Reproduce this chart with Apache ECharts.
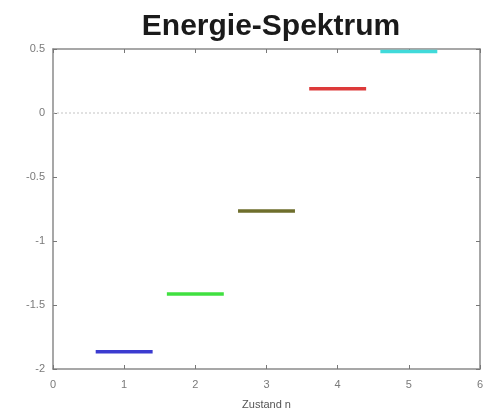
<!DOCTYPE html>
<html><head><meta charset="utf-8">
<script src="https://cdn.jsdelivr.net/npm/echarts@6/dist/echarts.min.js"></script>
<style>html,body{margin:0;padding:0;background:#fff}#c{width:487px;height:412px}</style>
</head><body><div id="c"></div>
<script>
const titleText = "Energie-Spektrum";
const xAxisName = "Zustand n";
const states = [1, 2, 3, 4, 5];
const energies = [-1.865, -1.415, -0.765, 0.19, 0.48];
const xTicks = [0, 1, 2, 3, 4, 5, 6];
const yTicks = [-2, -1.5, -1, -0.5, 0, 0.5];
const zeroLevel = 0;

const levelColors = ['#3b3bd0', '#40e040', '#6e6e2c', '#dd3a3a', '#40dada'];
const halfWidth = 0.4;

const chart = echarts.init(document.getElementById('c'));
const axisGray = '#8a8a8a';
const labelGray = '#7a7a7a';

const series = states.map((n, i) => ({
  type: 'line',
  data: [[n - halfWidth, energies[i]], [n + halfWidth, energies[i]]],
  symbol: 'none',
  lineStyle: { color: levelColors[i], width: 3.5 },
  silent: true,
  z: 5
}));
series.unshift({
  type: 'line',
  data: [[xTicks[0], zeroLevel], [xTicks[xTicks.length - 1], zeroLevel]],
  symbol: 'none',
  lineStyle: { color: '#c4c4c4', width: 1, type: [2, 2] },
  silent: true,
  z: 2
});

const xBase = {
  type: 'value', min: xTicks[0], max: xTicks[xTicks.length - 1], interval: 1,
  splitLine: { show: false },
  axisLine: { show: true, onZero: false, lineStyle: { color: axisGray, width: 1.5 } },
  axisTick: { show: true, inside: true, length: 4, lineStyle: { color: '#777' } }
};
const yBase = {
  type: 'value', min: yTicks[0], max: yTicks[yTicks.length - 1], interval: 0.5,
  splitLine: { show: false },
  axisLine: { show: true, onZero: false, lineStyle: { color: axisGray, width: 1.5 } },
  axisTick: { show: true, inside: true, length: 4, lineStyle: { color: '#777' } }
};

chart.setOption({
  animation: false,
  title: {
    text: titleText, left: 266, top: 7, textAlign: 'center',
    textStyle: { fontFamily: 'Liberation Sans', fontWeight: 'bold', fontSize: 30, color: '#1a1a1a' }
  },
  grid: { left: 53, right: 7, top: 49, bottom: 43, containLabel: false, outerBoundsMode: 'none' },
  xAxis: [
    Object.assign({}, xBase, {
      position: 'bottom',
      name: xAxisName, nameLocation: 'middle', nameGap: 30,
      nameTextStyle: { fontFamily: 'Liberation Sans', fontSize: 11, color: '#555' },
      axisLabel: { margin: 10, fontFamily: 'Liberation Sans', fontSize: 11, color: labelGray }
    }),
    Object.assign({}, xBase, { position: 'top', axisLabel: { show: false } })
  ],
  yAxis: [
    Object.assign({}, yBase, {
      position: 'left',
      axisLabel: { margin: 8, fontFamily: 'Liberation Sans', fontSize: 11, color: labelGray,
        formatter: v => String(v) }
    }),
    Object.assign({}, yBase, { position: 'right', axisLabel: { show: false } })
  ],
  series: series
});
</script></body></html>
